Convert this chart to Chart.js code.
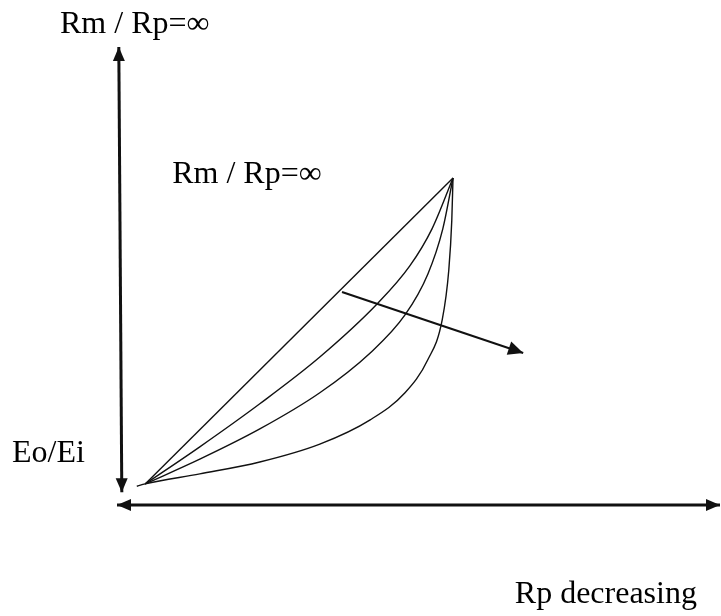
<!DOCTYPE html>
<html>
<head>
<meta charset="utf-8">
<script src="https://cdn.jsdelivr.net/npm/chart.js@4/dist/chart.umd.min.js"></script>
<style>
  body { margin: 0; background: #fff; }
  #wrap { width: 721px; height: 616px; }
</style>
</head>
<body>
<div id="wrap"><canvas id="myChart" width="721" height="616"></canvas></div>
<script>
// diagram values, in plot units (x: 0..10 along Rp axis, y: 0..10 along Eo/Ei axis)
var straightLine = [{x: 0.42, y: 0.46}, {x: 5.55, y: 7.14}];
var curveA = [{x: 0.42, y: 0.46}, {x: 1.33, y: 1.27}, {x: 2.33, y: 2.21}, {x: 3.33, y: 3.23}, {x: 4.30, y: 4.41},
  {x: 4.83, y: 5.22}, {x: 5.20, y: 6.03}, {x: 5.55, y: 7.14}];
var curveB = [{x: 0.42, y: 0.46}, {x: 1.33, y: 1.00}, {x: 2.33, y: 1.66}, {x: 3.33, y: 2.45}, {x: 4.17, y: 3.32},
  {x: 4.75, y: 4.15}, {x: 5.13, y: 5.04}, {x: 5.38, y: 6.03}, {x: 5.55, y: 7.14}];
var curveC = [{x: 0.28, y: 0.41}, {x: 0.42, y: 0.46}, {x: 1.33, y: 0.68}, {x: 2.33, y: 0.94}, {x: 3.33, y: 1.33},
  {x: 4.17, y: 1.86}, {x: 4.75, y: 2.45}, {x: 5.13, y: 3.17}, {x: 5.37, y: 4.04}, {x: 5.48, y: 5.13},
  {x: 5.53, y: 6.22}, {x: 5.55, y: 7.14}];
var trendArrow = [{x: 3.70, y: 4.65}, {x: 6.72, y: 3.32}];
var yAxisLine = [{x: -0.02, y: 10}, {x: 0.03, y: 0.28}];
var xAxisLine = [{x: -0.05, y: 0}, {x: 10, y: 0}];

var labelTexts = ['Rm / Rp=\u221e', 'Rm / Rp=\u221e', 'Eo/Ei', 'Rp decreasing'];
var labelX = [-1.0, 0.87, -1.8, 6.58];
var labelY = [10.31, 7.03, 0.93, -2.13];

function lineSet(data, width) {
  return {
    data: data,
    showLine: true,
    borderColor: '#111',
    borderWidth: width,
    pointRadius: 0,
    cubicInterpolationMode: 'monotone',
    clip: false
  };
}

// arrow heads: [dataset index, point index, length, half width]
var heads = [[5, 0, 14, 6], [5, 1, 14, 6], [6, 0, 14, 6], [6, 1, 14, 6], [4, 1, 15, 7]];

var diagram = {
  id: 'diagram',
  afterDatasetsDraw: function (chart) {
    var ctx = chart.ctx;
    var xs = chart.scales.x, ys = chart.scales.y;
    ctx.save();
    ctx.fillStyle = '#111';
    for (var i = 0; i < heads.length; i++) {
      var d = chart.data.datasets[heads[i][0]].data;
      var p = d[heads[i][1]];
      var q = d[heads[i][1] == 0 ? 1 : 0];
      var px = xs.getPixelForValue(p.x), py = ys.getPixelForValue(p.y);
      var qx = xs.getPixelForValue(q.x), qy = ys.getPixelForValue(q.y);
      var a = Math.atan2(py - qy, px - qx);
      var len = heads[i][2], w = heads[i][3];
      ctx.beginPath();
      ctx.moveTo(px, py);
      ctx.lineTo(px - len * Math.cos(a) + w * Math.sin(a), py - len * Math.sin(a) - w * Math.cos(a));
      ctx.lineTo(px - len * Math.cos(a) - w * Math.sin(a), py - len * Math.sin(a) + w * Math.cos(a));
      ctx.closePath();
      ctx.fill();
    }
    ctx.font = '32px "Liberation Serif", "DejaVu Serif", serif';
    ctx.textAlign = 'left';
    ctx.textBaseline = 'alphabetic';
    ctx.fillStyle = '#000';
    for (var j = 0; j < labelTexts.length; j++) {
      ctx.fillText(labelTexts[j], xs.getPixelForValue(labelX[j]), ys.getPixelForValue(labelY[j]));
    }
    ctx.restore();
  }
};

var ctx = document.getElementById('myChart').getContext('2d');
var myChart = new Chart(ctx, {
  type: 'scatter',
  data: {
    datasets: [
      lineSet(straightLine, 1.4),
      lineSet(curveA, 1.4),
      lineSet(curveB, 1.4),
      lineSet(curveC, 1.4),
      lineSet(trendArrow, 2),
      lineSet(yAxisLine, 3),
      lineSet(xAxisLine, 3)
    ]
  },
  options: {
    responsive: false,
    animation: false,
    layout: { padding: { left: 120, right: 1, top: 47, bottom: 111 } },
    plugins: { legend: { display: false }, tooltip: { enabled: false } },
    scales: {
      x: { type: 'linear', min: 0, max: 10, display: false },
      y: { type: 'linear', min: 0, max: 10, display: false }
    }
  },
  plugins: [diagram]
});
</script>
</body>
</html>
